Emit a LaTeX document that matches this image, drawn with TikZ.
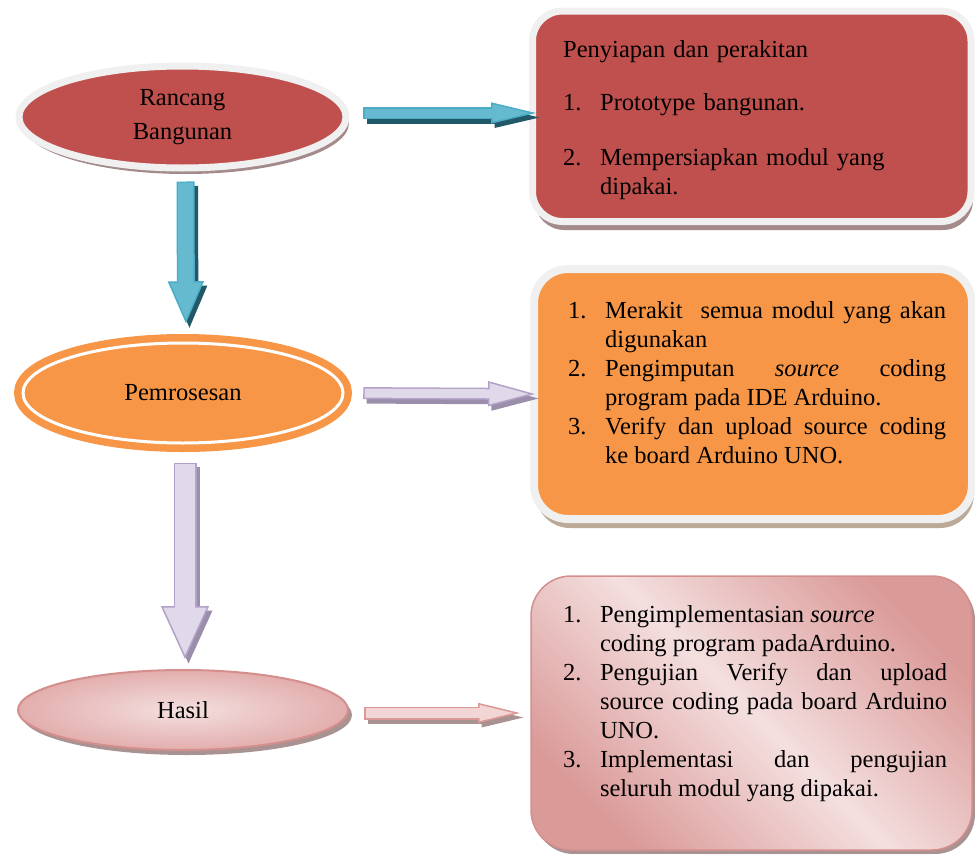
\documentclass[tikz,border=0pt]{standalone}
\usepackage{fontspec}
\setmainfont{Liberation Serif}
\usetikzlibrary{positioning,shapes.geometric,shadows,arrows.meta}

\definecolor{rancangred}{HTML}{C0504D}
\definecolor{ringgray}{HTML}{F0F0F0}
\definecolor{redshade}{HTML}{A48A8A}
\definecolor{prosesorange}{HTML}{F79646}
\definecolor{orangeshade}{HTML}{BBAA98}
\definecolor{hasilpink}{HTML}{F4DFDF}
\definecolor{hasilrose}{HTML}{E2AEAD}
\definecolor{boxrose}{HTML}{DA9A98}
\definecolor{hasilrim}{HTML}{D48E8C}
\definecolor{pinkshade}{HTML}{A89292}
\definecolor{arrowblue}{HTML}{4BACC6}
\definecolor{arrowbluelight}{HTML}{66BAD0}
\definecolor{blueshade}{HTML}{215968}
\definecolor{arrowlilac}{HTML}{B3A2C7}
\definecolor{arrowlilaclight}{HTML}{E0D9EA}
\definecolor{lilacshade}{HTML}{9A8EAA}
\definecolor{arrowpink}{HTML}{DA9896}
\definecolor{arrowpinklight}{HTML}{F2D6D5}

% numbered line with hanging indent
\newcommand{\stepitem}[2]{\noindent\hangindent=37pt\hangafter=1\makebox[37pt][l]{#1}#2\par}

\begin{document}
\begin{tikzpicture}[x=1pt, y=-1pt,
  every node/.style={font=\fontsize{24.5pt}{29pt}\selectfont},
  redbox/.style={rectangle, rounded corners=30pt, draw=ringgray, line width=7pt, fill=rancangred, inner sep=0pt, outer sep=0pt,
    drop shadow={shadow xshift=2pt, shadow yshift=-8.5pt, fill=redshade, opacity=1}},
  orangebox/.style={rectangle, rounded corners=34pt, draw=ringgray, line width=8pt, fill=prosesorange, inner sep=0pt, outer sep=0pt,
    drop shadow={shadow xshift=2pt, shadow yshift=-9pt, fill=orangeshade, opacity=1}},
  pinkbox/.style={rectangle, rounded corners=40pt, draw=hasilrim, line width=1.5pt, inner sep=0pt, outer sep=0pt,
    top color=boxrose, bottom color=boxrose, middle color=hasilpink, shading angle=-45,
    drop shadow={shadow xshift=3pt, shadow yshift=-4pt, fill=pinkshade, opacity=1}},
  rancangell/.style={ellipse, draw=ringgray, line width=7pt, fill=rancangred, inner sep=0pt, align=center,
    minimum width=327pt, minimum height=102pt,
    drop shadow={shadow xshift=3pt, shadow yshift=-6pt, fill=redshade, opacity=1}},
  prosesell/.style={ellipse, draw=prosesorange, line width=7.5pt, double=white, double distance=3pt,
    fill=prosesorange, inner sep=0pt, minimum width=320pt, minimum height=100pt},
  hasilell/.style={ellipse, draw=hasilrim, line width=2pt, inner color=hasilpink, outer color=hasilrose,
    inner sep=0pt, minimum width=330pt, minimum height=80pt,
    drop shadow={shadow xshift=4pt, shadow yshift=-5pt, fill=pinkshade, opacity=1}},
  listtext/.style={inner sep=0pt},
  arrowshadow/.style={draw=#1, transform canvas={xshift=3.5pt,yshift=-4.5pt}}]

  \useasboundingbox (0,0) rectangle (975,854);

  % left column
  \node[rancangell] (rancang) at (182.5,117) {Rancang\\[5pt]Bangunan};
  \node[prosesell] (pemrosesan) at (183,393) {Pemrosesan};
  \node[hasilell] (hasil) at (183,710) {Hasil};

  % right column boxes
  \node[redbox, minimum width=438.5pt, minimum height=210.5pt, anchor=north west] (box1) at (532.5,11) {};
  \node[orangebox, minimum width=438pt, minimum height=250pt, anchor=north west] (box2) at (534,269) {};
  \node[pinkbox, minimum width=441pt, minimum height=274pt, anchor=north west] (box3) at (531,576) {};

  % box texts
  \node[listtext, text width=397pt, align=left, below right=28.8pt and 30.5pt of box1.north west] (box1text)
    {Penyiapan dan perakitan\par\vspace{24pt}
     \stepitem{1.}{Prototype bangunan.}\vspace{26pt}
     \stepitem{2.}{Mempersiapkan modul yang\newline dipakai.}};
  \node[listtext, text width=378pt, align=justify, below right=32pt and 34pt of box2.north west] (box2text)
    {\stepitem{1.}{Merakit\ \ semua modul yang akan\linebreak digunakan}
     \stepitem{2.}{Pengimputan \textit{source} coding\linebreak program pada IDE Arduino.}
     \stepitem{3.}{Verify dan upload source coding\linebreak ke board Arduino UNO.}};
  \node[listtext, text width=384pt, align=justify, below right=29pt and 31.8pt of box3.north west] (box3text)
    {\stepitem{1.}{Pengimplementasian \textit{source}\newline coding program padaArduino.}
     \stepitem{2.}{Pengujian Verify dan upload\linebreak source coding pada board Arduino\linebreak UNO.}
     \stepitem{3.}{Implementasi dan pengujian\linebreak seluruh modul yang dipakai.}};

  % Rancang -> box1
  \draw[arrowshadow=blueshade, line width=12pt, shorten <=13.5pt, shorten >=-3.5pt, -{Triangle[length=45pt,width=21pt,line width=0pt]}] ([yshift=4pt]rancang.east) -- ([yshift=4pt]rancang.east -| box1.west);
  \draw[draw=arrowblue, line width=12pt, shorten <=13.5pt, shorten >=-3.5pt, -{Triangle[length=45pt,width=21pt,line width=1.5pt,fill=arrowbluelight]}] ([yshift=4pt]rancang.east) -- ([yshift=4pt]rancang.east -| box1.west);
  \draw[draw=arrowbluelight, line width=9pt, shorten <=15pt, shorten >=39.5pt] ([yshift=4pt]rancang.east) -- ([yshift=4pt]rancang.east -| box1.west);

  % Rancang -> Pemrosesan
  \draw[arrowshadow=blueshade, line width=18pt, shorten <=10pt, shorten >=16pt, -{Triangle[length=42pt,width=36pt,line width=0pt]}] ([xshift=3pt]rancang.south) -- ([xshift=3pt]pemrosesan.north);
  \draw[draw=arrowblue, line width=18pt, shorten <=10pt, shorten >=16pt, -{Triangle[length=42pt,width=36pt,line width=1.5pt,fill=arrowbluelight]}] ([xshift=3pt]rancang.south) -- ([xshift=3pt]pemrosesan.north);
  \draw[draw=arrowbluelight, line width=15pt, shorten <=11.5pt, shorten >=56pt] ([xshift=3pt]rancang.south) -- ([xshift=3pt]pemrosesan.north);

  % Pemrosesan -> box2
  \draw[arrowshadow=lilacshade, line width=12pt, shorten <=16.5pt, shorten >=-1pt, -{Triangle[length=47pt,width=25pt,line width=0pt]}] (pemrosesan.east) -- (box2.west);
  \draw[draw=arrowlilac, line width=12pt, shorten <=16.5pt, shorten >=-1pt, -{Triangle[length=47pt,width=25pt,line width=1.5pt,fill=arrowlilaclight]}] (pemrosesan.east) -- (box2.west);
  \draw[draw=arrowlilaclight, line width=9pt, shorten <=18pt, shorten >=44pt] (pemrosesan.east) -- (box2.west);

  % Pemrosesan -> Hasil
  \draw[arrowshadow=lilacshade, line width=23pt, shorten <=16pt, shorten >=10pt, -{Triangle[length=53pt,width=48pt,line width=0pt]}] ([xshift=2pt]pemrosesan.south) -- ([xshift=2pt]hasil.north);
  \draw[draw=arrowlilac, line width=23pt, shorten <=16pt, shorten >=10pt, -{Triangle[length=53pt,width=48pt,line width=1.5pt,fill=arrowlilaclight]}] ([xshift=2pt]pemrosesan.south) -- ([xshift=2pt]hasil.north);
  \draw[draw=arrowlilaclight, line width=20pt, shorten <=17.5pt, shorten >=61pt] ([xshift=2pt]pemrosesan.south) -- ([xshift=2pt]hasil.north);

  % Hasil -> box3
  \draw[arrowshadow=pinkshade, line width=13pt, shorten <=15pt, shorten >=11pt, -{Triangle[length=42pt,width=20pt,line width=0pt]}] (hasil.east |- box3.west) -- (box3.west);
  \draw[draw=arrowpink, line width=13pt, shorten <=15pt, shorten >=11pt, -{Triangle[length=42pt,width=20pt,line width=1.5pt,fill=arrowpinklight]}] (hasil.east |- box3.west) -- (box3.west);
  \draw[draw=arrowpinklight, line width=10pt, shorten <=16.5pt, shorten >=51pt] (hasil.east |- box3.west) -- (box3.west);
\end{tikzpicture}
\end{document}
